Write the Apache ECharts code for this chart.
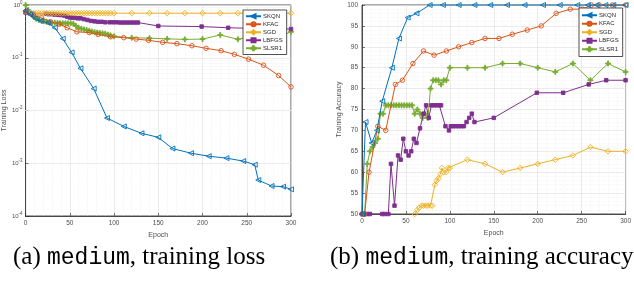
<!DOCTYPE html>
<html><head><meta charset="utf-8">
<script src="https://cdn.jsdelivr.net/npm/echarts@6/dist/echarts.min.js"></script>
<style>html,body{margin:0;padding:0;background:#fff}#c{width:634px;height:304px}</style>
</head><body><div id="c"></div>
<script>
const seriesNames = ['SKQN', 'KFAC', 'SGD', 'LBFGS', 'SLSR1'];
const xTicks = [0, 50, 100, 150, 200, 250, 300];
const lossTicks = [1e-4, 1e-3, 1e-2, 1e-1, 1];
const accTicks = [50, 55, 60, 65, 70, 75, 80, 85, 90, 95, 100];

// ---- panel (a): training loss [epoch, loss]
const skqnLoss = [[0,0.78],[5,0.66],[11,0.56],[17,0.5],[25,0.46],[33,0.37],[42,0.23],[52,0.126],[62,0.063],[77,0.026],[92,0.0072],[111,0.005],[131,0.0037],[150,0.0031],[166,0.0019],[187,0.00155],[207,0.00136],[227,0.00125],[246,0.0011],[259,0.00094],[263,0.00048],[278,0.00037],[291,0.00036],[300,0.00032]];
const kfacLoss = [[0,0.75],[9,0.63],[18,0.57],[28,0.48],[38,0.435],[47,0.37],[58,0.31],[72,0.30],[82,0.277],[96,0.25],[111,0.24],[125,0.226],[139,0.214],[155,0.196],[171,0.185],[188,0.169],[204,0.151],[221,0.136],[236,0.116],[252,0.094],[269,0.072],[286,0.046],[300,0.028]];
const sgdLoss = [[0,0.75],[3,0.71],[6,0.70],[9,0.70],[12,0.70],[15,0.70],[18,0.70],[21,0.70],[24,0.70],[27,0.70],[30,0.70],[33,0.70],[36,0.70],[39,0.70],[42,0.70],[45,0.70],[48,0.70],[51,0.70],[54,0.70],[57,0.70],[60,0.70],[63,0.70],[66,0.70],[69,0.70],[72,0.70],[75,0.70],[78,0.70],[81,0.70],[84,0.70],[87,0.70],[90,0.70],[93,0.70],[96,0.70],[100,0.70],[120,0.70],[140,0.70],[160,0.70],[180,0.70],[200,0.70],[220,0.70],[240,0.70],[260,0.70],[280,0.70],[300,0.70]];
const lbfgsLoss = [[0,0.72],[3,0.71],[6,0.70],[9,0.68],[23,0.68],[26,0.67],[30,0.67],[33,0.66],[37,0.65],[40,0.645],[44,0.63],[47,0.60],[50,0.58],[53,0.575],[56,0.57],[59,0.56],[62,0.56],[66,0.54],[70,0.52],[74,0.50],[78,0.49],[82,0.48],[86,0.48],[90,0.47],[95,0.47],[99,0.47],[103,0.47],[107,0.465],[111,0.465],[115,0.465],[119,0.465],[123,0.465],[127,0.465],[150,0.40],[199,0.39],[229,0.37],[258,0.36],[278,0.355],[300,0.35]];
const slsr1Loss = [[0,1.0],[3,0.8],[6,0.68],[9,0.6],[12,0.55],[15,0.52],[18,0.5],[21,0.49],[24,0.48],[27,0.47],[30,0.46],[33,0.46],[36,0.455],[39,0.45],[42,0.45],[45,0.45],[48,0.45],[51,0.45],[54,0.44],[57,0.40],[60,0.37],[63,0.355],[66,0.345],[69,0.335],[72,0.325],[75,0.315],[78,0.305],[81,0.30],[84,0.295],[87,0.29],[90,0.285],[93,0.275],[96,0.265],[100,0.255],[120,0.24],[140,0.235],[160,0.228],[180,0.223],[200,0.226],[220,0.27],[240,0.224],[260,0.26],[280,0.23],[300,0.31]];

// ---- panel (b): training accuracy [epoch, accuracy]
const skqnAcc = [[0,50],[4,72],[11,67],[17,70],[23,77],[34,85],[42,92],[52,97],[62,98],[77,100],[92,100],[110,100],[128,100],[146,100],[165,100],[185,100],[206,100],[225,100],[245,100],[257,100],[267,100],[277,100],[286,100],[300,100]];
const kfacAcc = [[0,50],[3,50],[8,60],[18,71],[27,70],[38,81],[46,82],[58,86],[70,89],[82,88],[96,89],[110,90],[125,91],[140,92],[156,92],[171,93],[188,94],[204,95],[221,98],[237,99],[251,99],[261,100],[270,100],[285,100],[300,100]];
const sgdAcc = [[60,50],[63,51],[65,51.5],[68,52],[70,52],[73,52],[75,52],[78,52],[80,52],[83,57],[85,58],[87,58.5],[89,59.5],[91,61],[93,60],[96,60],[98,61],[100,61],[120,63],[140,62],[160,60],[180,61],[200,62],[220,63],[240,64],[260,66],[280,65],[300,65]];
const lbfgsAcc = [[0,50],[3,50],[6,50],[9,50],[23,50],[26,50],[30,50],[33,62],[37,52],[41,64],[44,63],[47,68],[50,65],[53,64],[56,65],[59,68],[62,67],[66,70.5],[70,74],[73,76],[76,73],[79,76],[82,76],[85,76],[88,76],[90,76],[95,71],[99,70],[101,71],[104,71],[107,71],[110,71],[113,71],[116,71],[119,72],[122,73],[125,74],[128,72],[150,73],[199,79],[229,79],[258,81],[278,82],[300,82]];
const slsr1Acc = [[0,50],[3,50],[6,62],[9,65],[12,66],[15,67],[18,68],[21,74],[24,74],[27,76],[30,76],[33,76],[36,76],[39,76],[42,76],[45,76],[48,76],[51,76],[54,76],[57,76],[60,74],[63,75],[66,74],[69,73],[72,74],[75,73],[78,80],[81,82],[84,82],[87,82],[90,81],[93,82],[96,82],[100,85],[120,85],[140,85],[160,86],[180,86],[200,85],[220,84],[240,86],[260,82],[280,86],[300,84]];

const lossData = [skqnLoss, kfacLoss, sgdLoss, lbfgsLoss, slsr1Loss];
const accData = [skqnAcc, kfacAcc, sgdAcc, lbfgsAcc, slsr1Acc];

const colors = ['#0072BD', '#D95319', '#EDB120', '#7E2F8E', '#77AC30'];
const plusPath = 'path://M4,0H6V4H10V6H6V10H4V6H0V4H4Z';
const styles = [
  {symbol: 'triangle', rotate: 90, size: 5, fill: 'rgba(255,255,255,0)'},
  {symbol: 'circle', rotate: 0, size: 4.5, fill: 'rgba(255,255,255,0)'},
  {symbol: 'diamond', rotate: 0, size: 5.5, fill: 'rgba(255,255,255,0)'},
  {symbol: 'rect', rotate: 0, size: 3.5, fill: null},
  {symbol: plusPath, rotate: 0, size: 5, fill: null}
];

const labelFont = 'Liberation Sans';
const axisColor = '#262626';
const tickColor = '#4d4d4d';

function makeSeries(data, gi) {
  return data.map((d, i) => ({
    name: seriesNames[i], type: 'line', xAxisIndex: gi, yAxisIndex: gi,
    data: d, showAllSymbol: true, symbol: styles[i].symbol,
    symbolRotate: styles[i].rotate, symbolSize: styles[i].size,
    lineStyle: {color: colors[i], width: 1},
    itemStyle: {color: styles[i].fill || colors[i], borderColor: colors[i], borderWidth: 0.9},
    z: 10 - i, clip: true
  }));
}

const minorLog = [];
for (let e = -4; e < 0; e++) for (let k = 2; k <= 9; k++) minorLog.push(k * Math.pow(10, e));

const xAxisCommon = (gi) => ({
  type: 'value', gridIndex: gi, min: 0, max: 300, interval: 50,
  name: 'Epoch', nameLocation: 'middle', nameGap: gi === 0 ? 13 : 15,
  nameTextStyle: {fontFamily: labelFont, fontSize: 7, color: tickColor},
  axisLine: {lineStyle: {color: axisColor, width: 0.8}},
  axisTick: {inside: true, length: 3, lineStyle: {color: axisColor, width: 0.6}},
  axisLabel: {fontFamily: labelFont, fontSize: 6.5, color: tickColor, margin: 4},
  splitLine: {show: true, lineStyle: {color: '#e3e3e3', width: 0.7}},
  minorTick: {show: false, splitNumber: 5},
  minorSplitLine: {show: true, lineStyle: {color: '#ececec', width: 0.6, type: 'dotted'}}
});

const capRich = {
  s: {fontFamily: 'Liberation Serif', fontSize: 25, fontWeight: 'normal', color: '#000'},
  m: {fontFamily: 'Liberation Mono', fontSize: 23, fontWeight: 'normal', color: '#000'}
};

const legendCommon = {
  data: seriesNames, orient: 'vertical', itemWidth: 15, itemHeight: 5, itemGap: 1.5, z: 30, zlevel: 0,
  backgroundColor: '#fff', borderColor: '#262626', borderWidth: 0.8,
  textStyle: {fontFamily: labelFont, fontSize: 6, lineHeight: 6.5, color: '#262626', padding: [0, 0, 0, -3]}
};

const option = {
  animation: false,
  backgroundColor: '#fff',
  title: [
    {left: 13, top: 245, padding: 0, text: '{s|(a) }{m|medium}{s|, training loss}',
     textStyle: {fontWeight: 'normal', rich: capRich}},
    {left: 330, top: 245, padding: 0, text: '{s|(b) }{m|medium}{s|, training accuracy}',
     textStyle: {fontWeight: 'normal', rich: capRich}}
  ],
  grid: [
    {left: 25, top: 5, width: 266, height: 211, show: true, borderColor: axisColor, borderWidth: 0.8, backgroundColor: 'transparent'},
    {left: 362, top: 5, width: 266, height: 209, show: true, borderColor: axisColor, borderWidth: 0.8, backgroundColor: 'transparent'}
  ],
  legend: [
    Object.assign({}, legendCommon, {left: 243, top: 10, padding: [3, 4, 3, 2]}),
    Object.assign({}, legendCommon, {left: 579, top: 8, padding: [4, 4, 4, 2], itemGap: 2})
  ],
  xAxis: [xAxisCommon(0), xAxisCommon(1)],
  yAxis: [
    {type: 'log', gridIndex: 0, min: 1e-4, max: 1, logBase: 10,
     name: 'Training Loss', nameLocation: 'middle', nameGap: 16,
     nameTextStyle: {fontFamily: labelFont, fontSize: 7, color: tickColor},
     axisLine: {lineStyle: {color: axisColor, width: 0.8}},
     axisTick: {inside: true, length: 3, lineStyle: {color: axisColor, width: 0.6}},
     axisLabel: {fontFamily: labelFont, fontSize: 6, color: tickColor, margin: 3,
       formatter: v => '10{sup|' + Math.round(Math.log10(v)) + '}',
       rich: {sup: {fontSize: 4.5, verticalAlign: 'bottom', padding: [0, 0, 5, 0], fontFamily: labelFont, color: tickColor}}},
     splitLine: {show: true, lineStyle: {color: '#e3e3e3', width: 0.7}}},
    {type: 'value', gridIndex: 1, min: 50, max: 100, interval: 5,
     name: 'Training Accuracy', nameLocation: 'middle', nameGap: 19,
     nameTextStyle: {fontFamily: labelFont, fontSize: 7, color: tickColor},
     axisLine: {lineStyle: {color: axisColor, width: 0.8}},
     axisTick: {inside: true, length: 3, lineStyle: {color: axisColor, width: 0.6}},
     axisLabel: {fontFamily: labelFont, fontSize: 6.5, color: tickColor, margin: 4},
     splitLine: {show: true, lineStyle: {color: '#e3e3e3', width: 0.7}},
     minorTick: {show: false, splitNumber: 5},
     minorSplitLine: {show: true, lineStyle: {color: '#ececec', width: 0.6, type: 'dotted'}}}
  ],
  series: [
    {type: 'line', xAxisIndex: 0, yAxisIndex: 0, data: [], silent: true, z: 1,
     markLine: {silent: true, symbol: 'none', label: {show: false}, animation: false,
       lineStyle: {color: '#ececec', width: 0.6, type: 'dotted'},
       data: minorLog.map(v => ({yAxis: v}))}},
    ...makeSeries(lossData, 0),
    ...makeSeries(accData, 1)
  ]
};

const chart = echarts.init(document.getElementById('c'), null, {renderer: 'canvas'});
chart.setOption(option);
</script>
</body></html>
